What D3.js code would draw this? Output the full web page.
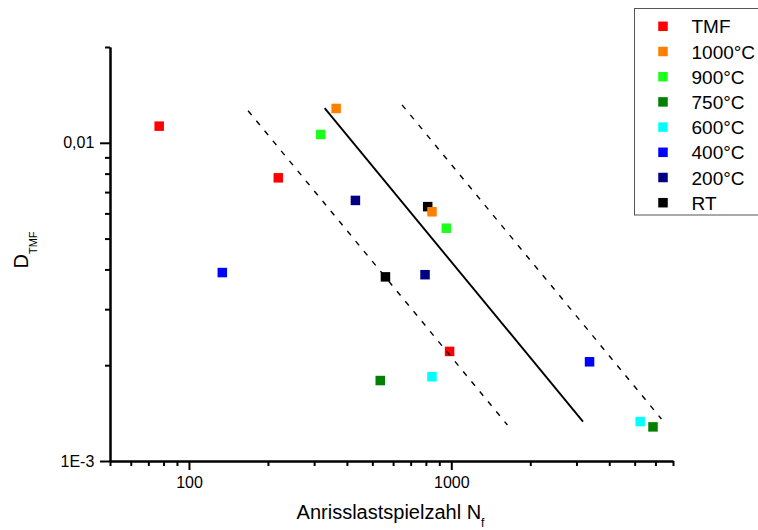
<!DOCTYPE html>
<html>
<head>
<meta charset="utf-8">
<script src="https://cdn.jsdelivr.net/npm/d3@7"></script>
<style>
  body { margin: 0; background: #fff; }
  svg text { font-family: Arial, "Liberation Sans", sans-serif; fill: #000; }
</style>
</head>
<body>
<svg id="chart" width="758" height="530"></svg>
<script>
// Test series: name, marker colour, cycles to crack initiation, damage parameter
const seriesNames  = ["TMF", "1000°C", "900°C", "750°C", "600°C", "400°C", "200°C", "RT"];
const seriesColors = ["#ff0000", "#ff8000", "#1cff1c", "#008000", "#00ffff", "#0000ff", "#000080", "#000000"];
const seriesCycles = [
  [77, 219, 985],
  [364, 844],
  [318, 957],
  [536, 5873],
  [844, 5248],
  [134, 3365],
  [431, 794],
  [813, 561]
];
const seriesDamage = [
  [0.01128, 0.00776, 0.00221],
  [0.01282, 0.00607],
  [0.01062, 0.00539],
  [0.00179, 0.00128],
  [0.00184, 0.00133],
  [0.00391, 0.00205],
  [0.00659, 0.00385],
  [0.00630, 0.00379]
];

// Life curve and factor-2 scatter band: start/end points of each line
const bandCycles = [[168, 1637], [329, 3177], [649, 6324]];
const bandDamage = [[0.01261, 0.001297], [0.01285, 0.00133], [0.01316, 0.001355]];
const bandDashed = [true, false, true];

// Axis ticks
const xMajorTicks = [100, 1000];
const xMinorTicks = [50, 60, 70, 80, 90, 200, 300, 400, 500, 600, 700, 800, 900,
                     2000, 3000, 4000, 5000, 6000, 7000];
const yMajorTicks = [0.001, 0.01];
const yMajorLabels = ["1E-3", "0,01"];
const yMinorTicks = [0.002, 0.003, 0.004, 0.005, 0.006, 0.007, 0.008, 0.009, 0.02];

const svg = d3.select("#chart");
const plotLeft = 110, plotRight = 673, plotTop = 47, plotBottom = 461;

const x = d3.scaleLog().domain([50, 7000]).range([plotLeft, plotRight]);
const y = d3.scaleLog().domain([0.001, 0.02]).range([plotBottom, plotTop]);

// Points (drawn last series first, so earlier series sit on top)
const markerSize = 9.5;
const plot = svg.append("g");
for (let s = seriesNames.length - 1; s >= 0; s--) {
  const pts = seriesCycles[s].map((n, i) => [n, seriesDamage[s][i]]);
  plot.selectAll(null).data(pts).enter().append("rect")
    .attr("x", d => x(d[0]) - markerSize / 2)
    .attr("y", d => y(d[1]) - markerSize / 2)
    .attr("width", markerSize)
    .attr("height", markerSize)
    .attr("fill", seriesColors[s]);
}

// Life curve and scatter band
const line = d3.line().x(d => x(d[0])).y(d => y(d[1]));
bandCycles.forEach((nc, i) => {
  const pts = nc.map((n, j) => [n, bandDamage[i][j]]);
  svg.append("path")
    .attr("d", line(pts))
    .attr("fill", "none")
    .attr("stroke", "#000")
    .attr("stroke-width", bandDashed[i] ? 1.4 : 1.9)
    .attr("stroke-dasharray", bandDashed[i] ? "5.5,7.5" : null);
});

// Axes
function styleAxis(g) {
  g.select(".domain").attr("stroke", "#000").attr("stroke-width", 2);
  g.selectAll(".tick line").attr("stroke", "#000").attr("stroke-width", 2);
  g.selectAll(".tick text").attr("font-size", 16).attr("fill", "#000")
    .attr("font-family", "Arial, 'Liberation Sans', sans-serif");
}

svg.append("g")
  .attr("transform", `translate(0,${plotBottom})`)
  .call(d3.axisBottom(x).tickValues(xMinorTicks).tickSize(5).tickSizeOuter(0).tickFormat(""))
  .call(styleAxis);
svg.append("g")
  .attr("transform", `translate(0,${plotBottom})`)
  .call(d3.axisBottom(x).tickValues(xMajorTicks).tickSize(9).tickSizeOuter(0).tickPadding(6.6)
        .tickFormat(d3.format("d")))
  .call(styleAxis);

svg.append("g")
  .attr("transform", `translate(${plotLeft},0)`)
  .call(d3.axisLeft(y).tickValues(yMinorTicks).tickSize(5).tickSizeOuter(0).tickFormat(""))
  .call(styleAxis);
svg.append("g")
  .attr("transform", `translate(${plotLeft},0)`)
  .call(d3.axisLeft(y).tickValues(yMajorTicks).tickSize(10).tickSizeOuter(0).tickPadding(5.7)
        .tickFormat((d, i) => yMajorLabels[i]))
  .call(styleAxis);

// Axis titles
const xTitle = svg.append("text")
  .attr("x", (plotLeft + plotRight) / 2 - 1)
  .attr("y", 519)
  .attr("text-anchor", "middle")
  .attr("font-size", 20);
xTitle.append("tspan").text("Anrisslastspielzahl N");
xTitle.append("tspan").attr("font-size", 12).attr("dy", 8).text("f");

const yTitle = svg.append("text")
  .attr("transform", "translate(27.5,250) rotate(-90)")
  .attr("text-anchor", "middle")
  .attr("font-size", 20);
yTitle.append("tspan").text("D");
yTitle.append("tspan").attr("font-size", 11).attr("dy", 9).text("TMF");

// Legend
const legend = svg.append("g");
legend.append("rect")
  .attr("x", 634.5).attr("y", 8.5)
  .attr("width", 160).attr("height", 206.5)
  .attr("fill", "#fff").attr("stroke", "#555").attr("stroke-width", 1);
seriesNames.forEach((name, i) => {
  const cy = 26.3 + i * 25.2;
  legend.append("rect")
    .attr("x", 663 - markerSize / 2).attr("y", cy - markerSize / 2)
    .attr("width", markerSize).attr("height", markerSize)
    .attr("fill", seriesColors[i]);
  legend.append("text")
    .attr("x", 691.5).attr("y", cy + 7)
    .attr("font-size", 19)
    .text(name);
});
</script>
</body>
</html>
